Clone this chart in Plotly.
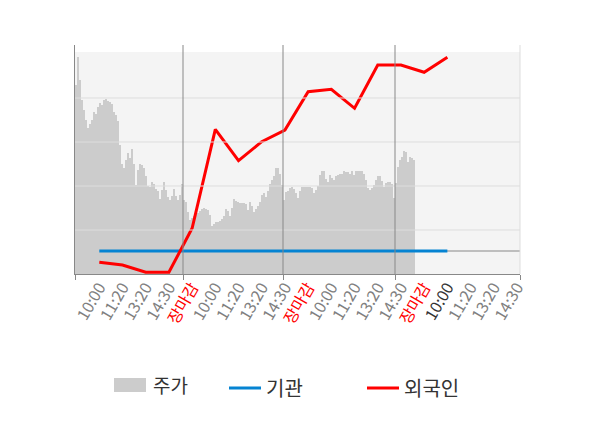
import plotly.graph_objects as go

# 분봉 주가 (일자별)
price_day1 = [11890, 12170, 11940, 11740, 11640, 11540, 11460, 11500, 11540, 11620,
              11600, 11670, 11710, 11690, 11740, 11750, 11730, 11720, 11700, 11620,
              11590, 11530, 11290, 11100, 11060, 11140, 11210, 11160, 11250, 11100,
              10890, 11040, 11100, 11090, 11060, 10980, 10880, 10870, 10920, 10900,
              10850, 10830, 10750, 10840, 10920, 10840, 10770, 10740, 10780, 10850,
              10780, 10740, 10790, 10900]
price_day2 = [10740, 10720, 10620, 10540, 10560, 10580, 10590, 10610, 10630, 10650,
              10660, 10650, 10640, 10590, 10480, 10500, 10520, 10520, 10530, 10550,
              10580, 10650, 10630, 10580, 10660, 10750, 10730, 10720, 10710, 10710,
              10710, 10700, 10640, 10720, 10680, 10620, 10650, 10680, 10720, 10790,
              10810, 10770, 10830, 10900, 10940, 10980, 11060, 11060, 11000, 10890]
price_day3 = [10740, 10820, 10830, 10860, 10870, 10850, 10810, 10760, 10830, 10870,
              10870, 10870, 10870, 10870, 10860, 10810, 10840, 10880, 10990, 11030,
              11030, 10950, 10920, 10990, 10960, 10940, 10980, 10990, 11000, 11000,
              11030, 11020, 11020, 11000, 11030, 10990, 11030, 11030, 11030, 11030,
              11000, 10940, 10860, 10840, 10860, 10890, 10940, 10980, 10980, 10930,
              10870, 10910, 10920, 10920, 10900, 10760]
price_day4 = [10910, 11070, 11140, 11170, 11230, 11220, 11120, 11170, 11160, 11140, 11120]

# 수급 (시간대별)
categories = ['10:00', '11:20', '13:20', '14:30', '장마감',
              '10:00', '11:20', '13:20', '14:30', '장마감',
              '10:00', '11:20', '13:20', '14:30', '장마감',
              '10:00', '11:20', '13:20', '14:30']
gigwan = [0, 0, 0, 0, 0, 0, 0, 0, 0, 0, 0, 0, 0, 0, 0, 0]
oeguk = [-11300, -14000, -21300, -21300, 22700, 121700, 90300, 109300,
         121000, 159300, 161700, 142700, 186000, 186000, 178700, 193700]

price = price_day1 + price_day2 + price_day3 + price_day4
day_ends = [0]
for d in [price_day1, price_day2, price_day3, price_day4]:
    day_ends.append(day_ends[-1] + len(d))

ticktext = []
for i, c in enumerate(categories):
    if c == '장마감':
        ticktext.append('<span style="color:#ff0000">' + c + '</span>')
    elif i == 15:
        ticktext.append('<span style="color:#333333">' + c + '</span>')
    else:
        ticktext.append(c)

fonte = 'Noto Sans CJK KR'

fig = go.Figure()

fig.add_trace(go.Scatter(
    x=list(range(len(price))),
    y=price,
    name='주가',
    mode='lines',
    line=dict(width=0, shape='hv', color='#cccccc'),
    fill='tozeroy',
    fillcolor='#cccccc',
    xaxis='x', yaxis='y',
    showlegend=False,
))

fig.add_trace(go.Scatter(
    x=list(range(len(gigwan))),
    y=gigwan,
    name='기관',
    mode='lines',
    line=dict(width=3, color='#0583d2'),
    xaxis='x2', yaxis='y2',
    legend='legend',
))

fig.add_trace(go.Scatter(
    x=list(range(len(oeguk))),
    y=oeguk,
    name='외국인',
    mode='lines',
    line=dict(width=3, color='#ff0000'),
    xaxis='x2', yaxis='y2',
    legend='legend2',
))

shapes = []
# 배경
shapes.append(dict(type='rect', xref='paper', yref='paper', x0=0, x1=1, y0=0, y1=0.969,
                   fillcolor='#f4f4f4', line_width=0, layer='below'))
# 가로 그리드
for g in [10440, 10880, 11320, 11760]:
    shapes.append(dict(type='line', xref='paper', yref='y', x0=0, x1=1, y0=g, y1=g,
                       line=dict(color='#dddddd', width=1), layer='above'))
# 일자 구분선
for b in day_ends[1:-1]:
    shapes.append(dict(type='line', xref='x', yref='paper', x0=b, x1=b, y0=0, y1=1,
                       line=dict(color='#888888', width=1), layer='above'))
# 오른쪽 끝
shapes.append(dict(type='line', xref='paper', yref='paper', x0=1, x1=1, y0=0, y1=1,
                   line=dict(color='#dddddd', width=1), layer='above'))
# 0 기준선
shapes.append(dict(type='line', xref='paper', yref='y2', x0=0, x1=1, y0=0, y1=0,
                   line=dict(color='#888888', width=1), layer='below'))
# 주가 범례 상자
shapes.append(dict(type='rect', xref='paper', yref='paper', x0=39 / 445, x1=71 / 445,
                   y0=-(392 - 274) / 229, y1=-(378 - 274) / 229,
                   fillcolor='#cccccc', line_width=0))

fig.update_layout(
    width=600,
    height=428,
    # 페이지 기본 여백(8px) 보정
    margin=dict(l=67, r=88, t=37, b=162, autoexpand=False),
    paper_bgcolor='white',
    plot_bgcolor='rgba(0,0,0,0)',
    font=dict(family=fonte, color='#333333'),
    shapes=shapes,
    showlegend=True,
    annotations=[dict(text='주가', xref='paper', yref='paper', x=76 / 445,
                      y=-(384 - 274) / 229, xanchor='left', yanchor='middle',
                      showarrow=False, font=dict(size=19, color='#333333'))],

    xaxis=dict(
        domain=[0, 1],
        anchor='y',
        range=[0, 222.5],
        showgrid=False,
        zeroline=False,
        showline=True,
        linecolor='#888888',
        linewidth=1,
        ticks='outside',
        ticklen=5,
        tickcolor='#888888',
        tickvals=day_ends[:-1] + [222.5],
        showticklabels=False,
    ),
    yaxis=dict(
        domain=[0, 1],
        anchor='x',
        range=[10000, 12290],
        showgrid=False,
        zeroline=False,
        showline=True,
        linecolor='#888888',
        linewidth=1,
        showticklabels=False,
        ticks='',
    ),
    xaxis2=dict(
        domain=[0, 1],
        anchor='y2',
        range=[-1.047, 18.13],
        showgrid=False,
        zeroline=False,
        showline=False,
        ticks='',
        tickmode='array',
        tickvals=list(range(len(categories))),
        ticktext=ticktext,
        tickangle=-60,
        tickfont=dict(size=16, color='#808080', family=fonte),
    ),
    yaxis2=dict(
        domain=[0, 1],
        anchor='x2',
        range=[-23000, 206000],
        showgrid=False,
        zeroline=False,
        showline=False,
        showticklabels=False,
        ticks='',
    ),

    legend=dict(x=(224 - 75) / 445, y=-(388 - 274) / 229,
                xanchor='left', yanchor='middle', font=dict(size=20), itemwidth=32,
                bgcolor='rgba(0,0,0,0)'),
    legend2=dict(x=(362 - 75) / 445, y=-(388 - 274) / 229,
                 xanchor='left', yanchor='middle', font=dict(size=20), itemwidth=32,
                 bgcolor='rgba(0,0,0,0)'),
)

fig.write_html("out.html")
